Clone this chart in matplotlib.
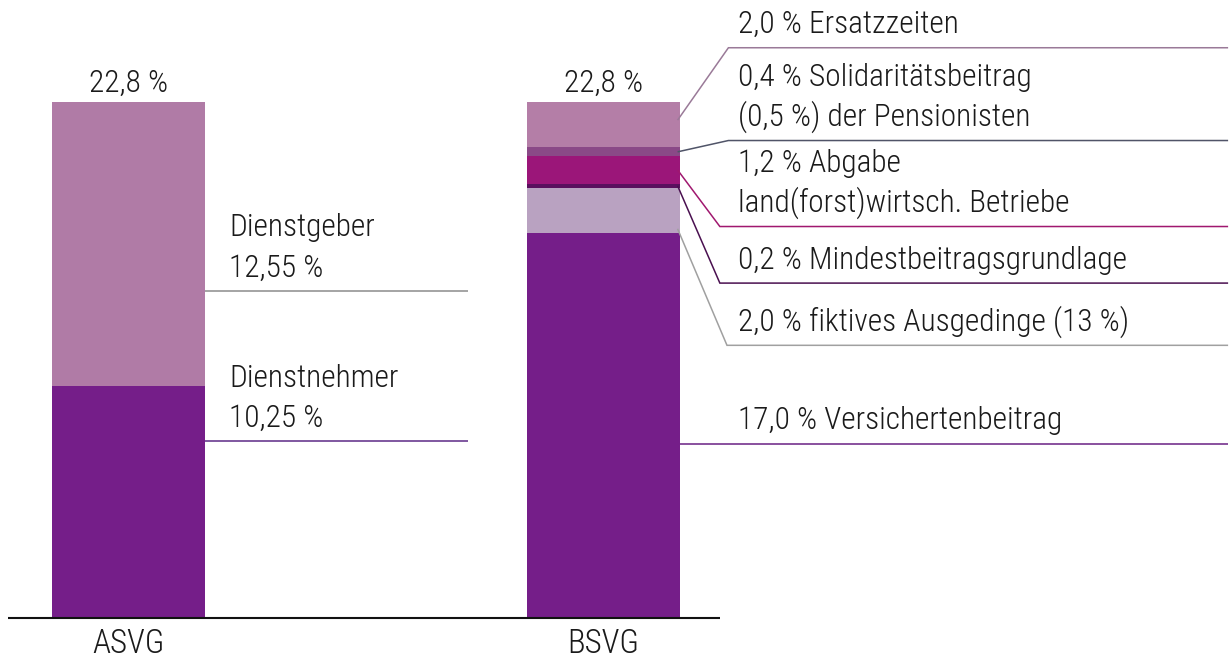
import matplotlib
matplotlib.use("Agg")
import matplotlib.pyplot as plt
import matplotlib.font_manager as fm

# prefer a narrow sans face when one is installed
_available = {f.name for f in fm.fontManager.ttflist}
_narrow = [f.name for f in fm.fontManager.ttflist
           if ("Condensed" in f.name or "Narrow" in f.name or f.stretch in ("condensed", "semi-condensed"))]
_preferred = ["Roboto Condensed", "Liberation Sans Narrow", "Open Sans Condensed", "DejaVu Sans Condensed"]
_family = next((n for n in _preferred if n in _available), _narrow[0] if _narrow else "DejaVu Sans")
plt.rcParams["font.family"] = [_family, "DejaVu Sans"]
plt.rcParams["font.weight"] = "light"

# ---- data -------------------------------------------------------------
categories = ["ASVG", "BSVG"]
total_labels = ["22,8 %", "22,8 %"]

asvg_values = [10.25, 12.55]
asvg_labels = ["Dienstnehmer\n10,25 %", "Dienstgeber\n12,55 %"]

bsvg_values = [17.0, 2.0, 0.2, 1.2, 0.4, 2.0]
bsvg_labels = [
    "17,0 % Versichertenbeitrag",
    "2,0 % fiktives Ausgedinge (13 %)",
    "0,2 % Mindestbeitragsgrundlage",
    "1,2 % Abgabe\nland(forst)wirtsch. Betriebe",
    "0,4 % Solidaritätsbeitrag\n(0,5 %) der Pensionisten",
    "2,0 % Ersatzzeiten",
]

# ---- styling ----------------------------------------------------------
asvg_colors = ["#751e89", "#b07ba6"]
asvg_line_colors = ["#5c2a86", "#8c8c8c"]
bsvg_colors = ["#751e89", "#b9a2c1", "#5a0f5e", "#9b1679", "#8a4987", "#b47ea7"]
bsvg_line_colors = ["#6a2084", "#a0a0a0", "#4a1050", "#a0186f", "#505468", "#9a7a98"]

# label rows (y of the horizontal leader line, in data units)
asvg_rows = [7.8, 14.45]
bsvg_rows = [7.7, 12.05, 14.8, 17.3, 21.1, 25.2]
# where the leader leaves the segment (fraction of segment height)
bsvg_anchor = [0.45, 0.1, 0.5, 0.5, 0.5, 0.6]
# horizontal distance from bar edge to leader elbow
bsvg_elbow = [0.0, 0.099, 0.084, 0.084, 0.102, 0.102]

bar_width = 0.322
line_gap_pts = 10.5       # baseline of last text line above leader
line_step_pts = 28.8      # distance between text lines

fig = plt.figure(figsize=(12.31, 6.62), dpi=100)

# size the text so that a reference label spans about 220 px
_probe = fig.text(0, 0, "2,0 % Ersatzzeiten", fontsize=20)
_w = _probe.get_window_extent(renderer=fig.canvas.get_renderer()).width
_probe.remove()
fs = min(20 * 220 / _w, 24)

ax = fig.add_axes([0, 44 / 662, 1, 618 / 662])
ax.set_xlim(-0.2705, 2.3211)
ax.set_ylim(0, 27.31)
ax.axis("off")


def draw_label(text, x, y):
    lines = text.split("\n")
    n = len(lines)
    for i, ln in enumerate(lines):
        ax.annotate(ln, xy=(x, y), xytext=(0, line_gap_pts + (n - 1 - i) * line_step_pts),
                    textcoords="offset points", ha="left", va="baseline",
                    fontsize=fs, color="#1a1a1a")


# ---- ASVG -------------------------------------------------------------
bottom = 0.0
right = 0 + bar_width / 2
for v, c, lab, row, lc in zip(asvg_values, asvg_colors, asvg_labels, asvg_rows, asvg_line_colors):
    ax.bar(0, v, bottom=bottom, width=bar_width, color=c, linewidth=0)
    ax.plot([right, 0.715], [row, row], color=lc, lw=1.1, solid_capstyle="butt")
    draw_label(lab, 0.212, row)
    bottom += v

# ---- BSVG -------------------------------------------------------------
bottom = 0.0
right = 1 + bar_width / 2
for v, c, lab, row, lc, fa, dx in zip(bsvg_values, bsvg_colors, bsvg_labels, bsvg_rows,
                                      bsvg_line_colors, bsvg_anchor, bsvg_elbow):
    ax.bar(1, v, bottom=bottom, width=bar_width, color=c, linewidth=0)
    if bottom <= row <= bottom + v:
        ax.plot([right, 2.315], [row, row], color=lc, lw=1.1, solid_capstyle="butt")
    else:
        ay = bottom + fa * v
        ax.plot([right - 0.005, right + dx, 2.315], [ay, row, row], color=lc, lw=1.1,
                solid_capstyle="butt", solid_joinstyle="miter")
    draw_label(lab, 1.283, row)
    bottom += v

# ---- totals, category labels, base line -------------------------------
for i, (cat, tl) in enumerate(zip(categories, total_labels)):
    total = sum(asvg_values) if i == 0 else sum(bsvg_values)
    ax.annotate(tl, xy=(i, total), xytext=(0, 7.5), textcoords="offset points",
                ha="center", va="baseline", fontsize=fs, color="#1a1a1a")
    ax.annotate(cat, xy=(i, 0), xytext=(0, -25.5), textcoords="offset points",
                ha="center", va="baseline", fontsize=fs * 1.05, color="#1a1a1a")

ax.plot([-0.2537, 1.245], [0, 0], color="#111111", lw=1.5, clip_on=False,
        solid_capstyle="butt")

fig.savefig("out.png", dpi=100, facecolor="white")
